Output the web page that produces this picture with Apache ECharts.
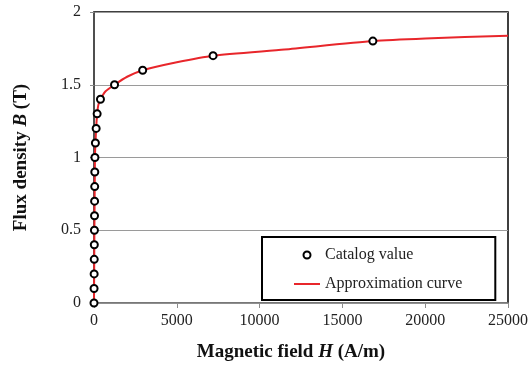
<!DOCTYPE html>
<html lang="en">
<head>
    <meta charset="UTF-8">
    <title>B-H curve</title>
    <style>
        body{ margin: 0; }
    </style>
</head>
<body>
<div id="main" style="width: 528px;height:374px;"></div>
</body>
<script src="https://cdn.jsdelivr.net/npm/echarts@6/dist/echarts.min.js"></script>
<script type="text/javascript">
    // catalog points (H in A/m, B in T)
    var catalogH = [0, 4, 9, 14, 19, 25, 31, 36, 42, 48, 56, 85, 130, 190, 390, 1240, 2940, 7190, 16840];
    var catalogB = [0, 0.1, 0.2, 0.3, 0.4, 0.5, 0.6, 0.7, 0.8, 0.9, 1.0, 1.1, 1.2, 1.3, 1.4, 1.5, 1.6, 1.7, 1.8];
    // approximation curve
    var curveH = [0, 56, 130, 190, 260, 390, 700, 1240, 2000, 2940, 5000, 7190, 11500, 16840, 20000, 25000];
    var curveB = [0, 1.0, 1.2, 1.3, 1.36, 1.4, 1.455, 1.5, 1.555, 1.6, 1.655, 1.7, 1.742, 1.8, 1.818, 1.837];
    var xTicks = [0, 5000, 10000, 15000, 20000, 25000];
    var yTicks = [0, 0.5, 1, 1.5, 2];

    var serif = 'Liberation Serif';
    var myChart = echarts.init(document.getElementById('main'));
    var option = {
        animation: false,
        textStyle: { fontFamily: serif },
        grid: {
            left: 94, right: 20, top: 12, bottom: 71,
            outerBoundsMode: 'none',
            show: true,
            borderColor: '#000',
            borderWidth: 1.5
        },
        legend: {
            orient: 'vertical',
            left: 262,
            top: 237,
            padding: [10, 33, 8, 31],
            itemGap: 13,
            itemWidth: 26,
            itemHeight: 7,
            backgroundColor: '#fff',
            borderColor: '#000',
            borderWidth: 2,
            borderRadius: 0,
            textStyle: { fontFamily: serif, fontSize: 16, color: '#222' },
            data: [
                { name: 'Catalog value' },
                { name: 'Approximation curve', itemStyle: { opacity: 0 } }
            ]
        },
        xAxis: {
            type: 'value',
            min: xTicks[0],
            max: xTicks[xTicks.length - 1],
            interval: 5000,
            name: 'Magnetic field {i|H} (A/m)',
            nameLocation: 'middle',
            nameGap: 40,
            nameTextStyle: {
                fontFamily: serif, fontSize: 19, fontWeight: 'bold', color: '#111',
                padding: [0, 20, 0, 0],
                rich: { i: { fontFamily: serif, fontSize: 19, fontWeight: 'bold', fontStyle: 'italic', color: '#111' } }
            },
            axisLine: { show: true, lineStyle: { color: '#8c8c8c', width: 1.5 } },
            axisTick: { show: true, length: 5, lineStyle: { color: '#8c8c8c' } },
            axisLabel: {
                fontFamily: serif, fontSize: 16, color: '#222', margin: 10,
                formatter: function (v) { return String(v); }
            },
            splitLine: { show: false }
        },
        yAxis: {
            type: 'value',
            min: yTicks[0],
            max: yTicks[yTicks.length - 1],
            interval: 0.5,
            name: 'Flux density {i|B} (T)',
            nameLocation: 'middle',
            nameGap: 63,
            nameRotate: 90,
            nameTextStyle: {
                fontFamily: serif, fontSize: 19, fontWeight: 'bold', color: '#111',
                rich: { i: { fontFamily: serif, fontSize: 19, fontWeight: 'bold', fontStyle: 'italic', color: '#111' } }
            },
            axisLine: { show: true, lineStyle: { color: '#555', width: 1.5 } },
            axisTick: { show: true, length: 4, lineStyle: { color: '#8c8c8c' } },
            axisLabel: { fontFamily: serif, fontSize: 16, color: '#222', margin: 13 },
            splitLine: { show: true, lineStyle: { color: '#9a9a9a', width: 1 } }
        },
        series: [
            {
                name: 'Approximation curve',
                type: 'line',
                data: curveH.map(function (h, i) { return [h, curveB[i]]; }),
                symbol: 'none',
                smooth: 0.2,
                lineStyle: { color: '#e8262b', width: 2 },
                itemStyle: { color: '#e8262b' },
                z: 2
            },
            {
                name: 'Catalog value',
                type: 'scatter',
                data: catalogH.map(function (h, i) { return [h, catalogB[i]]; }),
                symbol: 'circle',
                symbolSize: 7,
                itemStyle: { color: '#fff', borderColor: '#000', borderWidth: 2, opacity: 1 },
                z: 3
            }
        ]
    };
    option && myChart.setOption(option);
</script>
</html>
